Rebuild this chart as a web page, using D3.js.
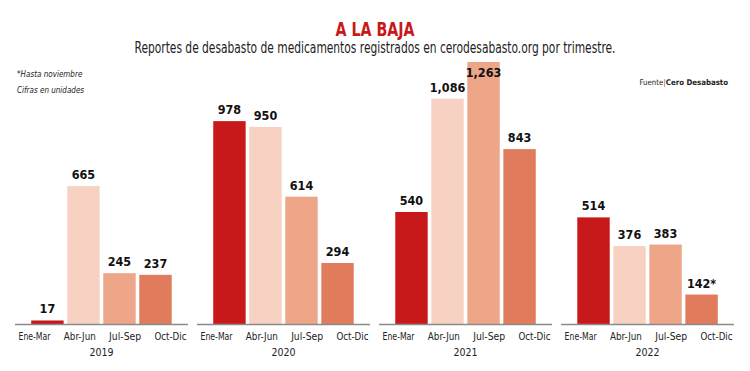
<!DOCTYPE html>
<html>
<head>
<meta charset="utf-8">
<script src="https://cdn.jsdelivr.net/npm/d3@7.9.0/dist/d3.min.js"></script>
<style>
  body { margin: 0; background: #fff; }
  svg { display: block; font-family: "DejaVu Sans", sans-serif; font-stretch: condensed; }
  svg text { font-stretch: condensed; }
</style>
</head>
<body>
<svg id="chart" width="750" height="371"></svg>
<script>
const years = ['2019', '2020', '2021', '2022'];
const quarters = ['Ene-Mar', 'Abr-Jun', 'Jul-Sep', 'Oct-Dic'];
const values2019 = [17, 665, 245, 237];
const values2020 = [978, 950, 614, 294];
const values2021 = [540, 1086, 1263, 843];
const values2022 = [514, 376, 383, 142];
const valueLabels2022 = ['514', '376', '383', '142*'];
const quarterColors = ['#c8191a', '#f7d2c2', '#eda688', '#e07b5c'];

const series = [values2019, values2020, values2021, values2022];

const svg = d3.select('#chart');
const W = 750, H = 371;
const baseY = 324, topY = 62;

const x0 = d3.scaleBand().domain(years).range([15, 734]).paddingInner(0.05);
const x1 = d3.scaleBand().domain(quarters).range([0, x0.bandwidth()]).paddingInner(0.1).paddingOuter(0.45);
// quarter names are spread over the whole group, not under each bar
const xLab = d3.scalePoint().domain(quarters).range([19, x0.bandwidth() - 18]);
const y = d3.scaleLinear().domain([0, 1263]).range([baseY, topY]);

const fmt = d3.format(',');

// title
svg.append('text')
  .attr('x', W / 2).attr('y', 36)
  .attr('text-anchor', 'middle')
  .attr('fill', '#c8191a')
  .attr('font-weight', 'bold')
  .attr('font-size', 19)
  .attr('textLength', 79)
  .attr('lengthAdjust', 'spacingAndGlyphs')
  .text('A LA BAJA');

svg.append('text')
  .attr('x', W / 2).attr('y', 53)
  .attr('text-anchor', 'middle')
  .attr('fill', '#222')
  .attr('font-size', 15)
  .attr('textLength', 481)
  .attr('lengthAdjust', 'spacingAndGlyphs')
  .text('Reportes de desabasto de medicamentos registrados en cerodesabasto.org por trimestre.');

// notes
svg.append('text').attr('x', 17).attr('y', 77)
  .attr('font-size', 8).attr('font-style', 'italic').attr('fill', '#222')
  .text('*Hasta noviembre');
svg.append('text').attr('x', 17).attr('y', 93)
  .attr('font-size', 8).attr('font-style', 'italic').attr('fill', '#222')
  .text('Cifras en unidades');

const src = svg.append('text').attr('x', 728).attr('y', 85)
  .attr('text-anchor', 'end').attr('font-size', 7.8).attr('fill', '#222');
src.append('tspan').text('Fuente');
src.append('tspan').attr('fill', '#c8191a').text('|');
src.append('tspan').attr('font-weight', 'bold').text('Cero Desabasto');

years.forEach((yr, i) => {
  const g = svg.append('g').attr('transform', `translate(${x0(yr)},0)`);
  const vals = series[i];

  g.selectAll('rect')
    .data(vals)
    .join('rect')
    .attr('x', (d, j) => x1(quarters[j]))
    .attr('y', d => y(d))
    .attr('width', x1.bandwidth())
    .attr('height', d => baseY - y(d))
    .attr('fill', (d, j) => quarterColors[j]);

  // labels sit above the bar, or just inside it when there is no room
  g.selectAll('text.val')
    .data(vals)
    .join('text')
    .attr('class', 'val')
    .attr('x', (d, j) => x1(quarters[j]) + x1.bandwidth() / 2)
    .attr('y', d => Math.max(y(d) - 7, topY + 15))
    .attr('text-anchor', 'middle')
    .attr('font-weight', 'bold')
    .attr('font-size', 12.5)
    .attr('fill', '#111')
    .text((d, j) => yr === '2022' ? valueLabels2022[j] : fmt(d));

  // baseline
  g.append('line')
    .attr('x1', 0).attr('x2', x0.bandwidth())
    .attr('y1', baseY + 0.5).attr('y2', baseY + 0.5)
    .attr('stroke', '#8a8a8a').attr('stroke-width', 1.5);

  const axis = d3.axisBottom(xLab).tickSize(0).tickPadding(9);
  const ag = g.append('g').attr('transform', `translate(0,${baseY})`).call(axis);
  ag.attr('font-family', null).attr('font-size', null);
  ag.select('.domain').remove();
  ag.selectAll('text').attr('font-size', 10.5).attr('fill', '#222')
    .attr('textLength', 32).attr('lengthAdjust', 'spacingAndGlyphs');

  g.append('text')
    .attr('x', x0.bandwidth() / 2).attr('y', 356)
    .attr('text-anchor', 'middle')
    .attr('font-size', 10.5).attr('fill', '#222')
    .text(yr);
});
</script>
</body>
</html>
